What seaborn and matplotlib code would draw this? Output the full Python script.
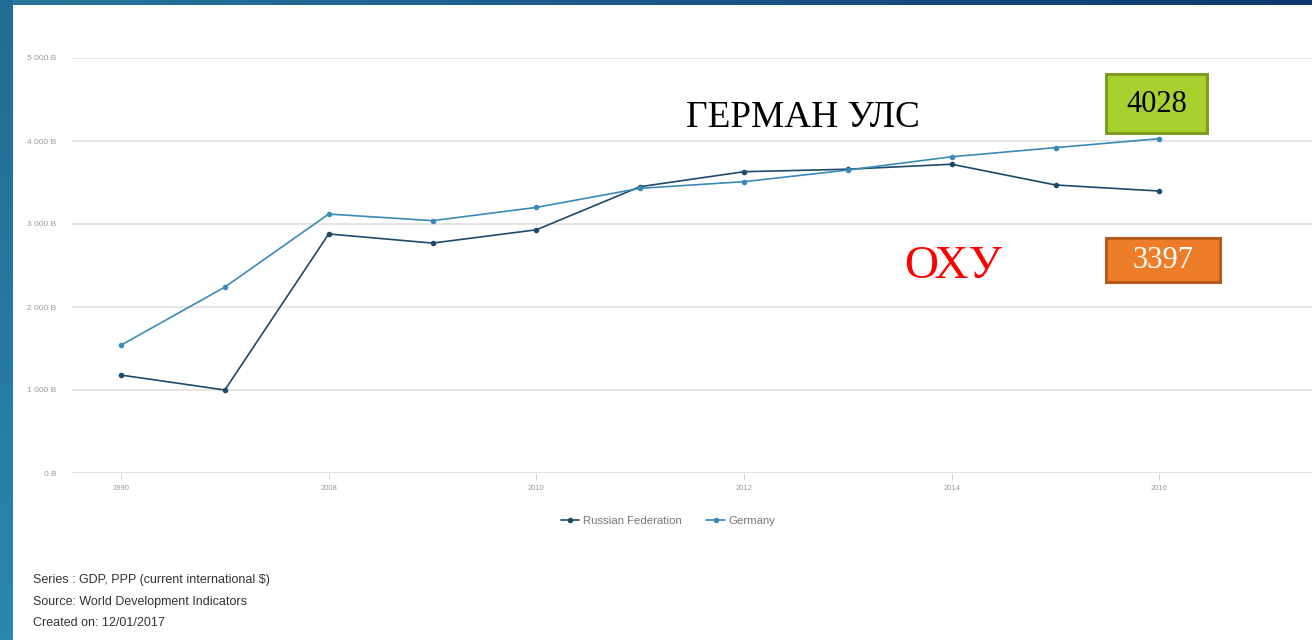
import numpy as np
import pandas as pd
import matplotlib
matplotlib.use("Agg")
import matplotlib.pyplot as plt
from matplotlib.patches import Rectangle
from matplotlib.lines import Line2D
import seaborn as sns

years = ["1990", "2000", "2008", "2009", "2010", "2011", "2012", "2013", "2014", "2015", "2016"]
russia = [1180, 1000, 2880, 2770, 2930, 3450, 3630, 3660, 3720, 3470, 3397]
germany = [1540, 2240, 3120, 3040, 3200, 3430, 3510, 3650, 3810, 3920, 4028]
series_names = ["Russian Federation", "Germany"]
tick_years = ["1990", "2008", "2010", "2012", "2014", "2016"]
y_ticks = [0, 1000, 2000, 3000, 4000, 5000]
y_labels = ["0 B", "1 000 B", "2 000 B", "3 000 B", "4 000 B", "5 000 B"]
footer = ["Series : GDP, PPP (current international \\$)",
          "Source: World Development Indicators",
          "Created on: 12/01/2017"]
label_germany = "ГЕРМАН УЛС"
label_russia = "ОХУ"
value_germany = "4028"
value_russia = "3397"

W, H = 1312, 640
sns.set_theme(style="white")
plt.rcParams['font.family'] = ['Liberation Sans', 'DejaVu Sans']

fig = plt.figure(figsize=(W / 100, H / 100), dpi=100)

# slide background: white with gradient border on top and left
bg = np.ones((H, W, 3))
t = np.linspace(0, 1, W)[None, :, None]
top_l = np.array([0.16, 0.47, 0.62])
top_r = np.array([0.05, 0.22, 0.43])
bg[:5, :, :] = top_l * (1 - t) + top_r * t
s = np.linspace(0, 1, H)[:, None, None]
left_t = np.array([0.13, 0.42, 0.58])
left_b = np.array([0.17, 0.53, 0.68])
bg[:, :13, :] = left_t * (1 - s) + left_b * s
fig.figimage(bg, 0, 0, origin="upper", zorder=-10)

def fx(px):
    return px / W

def fy(py):
    return 1 - py / H

ax = fig.add_axes([fx(72), fy(473), fx(1312) - fx(72), fy(58) - fy(473)])
ax.patch.set_alpha(0)
ax.set_zorder(1)

df = pd.DataFrame({
    "idx": list(range(len(years))) * 2,
    "value": russia + germany,
    "series": [series_names[0]] * len(years) + [series_names[1]] * len(years),
})
palette = {series_names[0]: "#1c4a6b", series_names[1]: "#3a8ab8"}
sns.lineplot(data=df, x="idx", y="value", hue="series", palette=palette,
             marker="o", markersize=4, markeredgewidth=0, linewidth=1.2,
             ax=ax, legend=False, zorder=3)

ax.set_xlim(-0.472, 11.47)
ax.set_ylim(0, 5000)
ax.set_yticks(y_ticks)
ax.set_yticklabels(y_labels)
ax.set_xticks([years.index(y) for y in tick_years])
ax.set_xticklabels(tick_years)
ax.grid(axis="y", color="#e3e3e3", linewidth=1.3)
ax.grid(axis="x", visible=False)
for sp in ax.spines.values():
    sp.set_visible(False)
ax.tick_params(axis="y", length=0, pad=11, labelsize=6, labelcolor="#999999")
ax.tick_params(axis="x", length=5, width=0.6, color="#cfcfcf", direction="out",
               pad=4, labelsize=5.5, labelcolor="#999999", bottom=True)
ax.set_xlabel("")
ax.set_ylabel("")

# legend
handles = [Line2D([0], [0], color=palette[n], marker="o", markersize=4, markeredgewidth=0,
                  linewidth=1.2) for n in series_names]
fig.legend(handles, series_names, loc="center", bbox_to_anchor=(fx(668), fy(521)),
           ncol=2, frameon=False, fontsize=8.2, labelcolor="#777777",
           handlelength=1.6, handletextpad=0.3, columnspacing=2.2)

# footer
for i, line in enumerate(footer):
    fig.text(fx(33), fy(583 + i * 21.5), line, fontsize=9, color="#333333",
             ha="left", va="baseline")

# annotations
serif = ['Liberation Serif', 'DejaVu Serif']
fig.text(fx(686), fy(127), label_germany, family=serif, fontsize=26.8,
         color="black", ha="left", va="baseline")
fig.text(fx(904), fy(278), label_russia, family=serif, fontsize=34,
         color="#ff0000", ha="left", va="baseline")

fig.patches.append(Rectangle((fx(1106), fy(133)), fx(101), fy(74) - fy(133),
                             transform=fig.transFigure, facecolor="#a8d12f",
                             edgecolor="#7f9b22", linewidth=2.2, zorder=5))
fig.text(fx(1156.5), fy(104), value_germany, family=serif, fontsize=22,
         color="black", ha="center", va="center", zorder=6)
fig.patches.append(Rectangle((fx(1106), fy(282)), fx(114), fy(238) - fy(282),
                             transform=fig.transFigure, facecolor="#ee7d2a",
                             edgecolor="#b85b1c", linewidth=2.2, zorder=5))
fig.text(fx(1163), fy(261), value_russia, family=serif, fontsize=22,
         color="white", ha="center", va="center", zorder=6)

fig.savefig("out.png", dpi=100)
